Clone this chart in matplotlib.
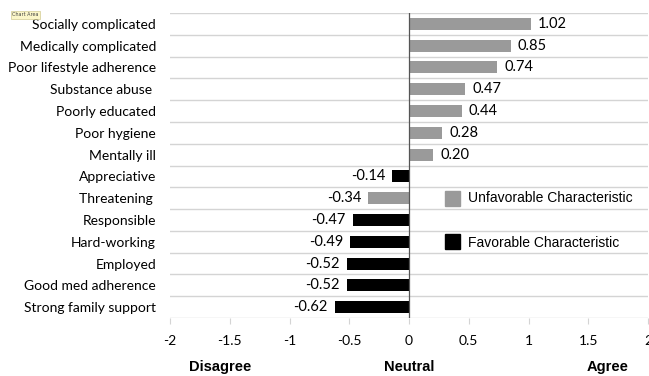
import matplotlib
matplotlib.use("Agg")
import matplotlib.pyplot as plt
import numpy as np

categories = ["Socially complicated", "Medically complicated", "Poor lifestyle adherence",
              "Substance abuse ", "Poorly educated", "Poor hygiene", "Mentally ill",
              "Appreciative", "Threatening ", "Responsible", "Hard-working", "Employed",
              "Good med adherence", "Strong family support"]
values = [1.02, 0.85, 0.74, 0.47, 0.44, 0.28, 0.20,
          -0.14, -0.34, -0.47, -0.49, -0.52, -0.52, -0.62]
unfavorable = [True, True, True, True, True, True, True,
               False, True, False, False, False, False, False]
xticks = [-2, -1.5, -1, -0.5, 0, 0.5, 1, 1.5, 2]
xtick_labels = ["-2", "-1.5", "-1", "-0.5", "0", "0.5", "1", "1.5", "2"]

gray = "#9a9a9a"
black = "#000000"
colors = [gray if u else black for u in unfavorable]

fig = plt.figure(figsize=(6.49, 3.76), dpi=100)
ax = fig.add_axes([170/649, 1 - 318/376, 478/649, 305/376])

n = len(categories)
y = np.arange(n)
ax.barh(y, values, height=0.55, color=colors, zorder=3)
ax.set_ylim(n - 0.5, -0.5)
ax.set_xlim(-2, 2)

# horizontal gridlines at category boundaries
for b in np.arange(-0.5, n, 1.0):
    ax.axhline(b, color="#d4d4d4", lw=1.0, zorder=1)
ax.axvline(0, color="#555555", lw=0.9, zorder=4)

for yi, v in zip(y, values):
    if v >= 0:
        ax.text(v + 0.06, yi, "%.2f" % v, va="center", ha="left", fontsize=10.5,
                family="Lato", zorder=5)
    else:
        ax.text(v - 0.06, yi, "%.2f" % v, va="center", ha="right", fontsize=10.5,
                family="Lato", zorder=5)

ax.set_yticks(y)
ax.set_yticklabels(categories, family="Lato", fontsize=10)
ax.tick_params(axis="y", length=0, pad=10)
ax.set_xticks(xticks)
ax.set_xticklabels(xtick_labels, family="Lato", fontsize=10)
ax.tick_params(axis="x", length=4, color="#d4d4d4", pad=8)
for s in ax.spines.values():
    s.set_visible(False)

# axis descriptors
for xv, lab in [(-1.58, "Disagree"), (0, "Neutral"), (1.66, "Agree")]:
    ax.text(xv, n + 1.75, lab, ha="center", va="center", fontsize=10.5,
            fontweight="bold", family="Liberation Sans", clip_on=False)

# legend
ax.add_patch(plt.Rectangle((0.30, 7.65), 0.13, 0.7, color=gray, zorder=5))
ax.text(0.49, 8.0, "Unfavorable Characteristic", va="center", ha="left",
        fontsize=10, family="Liberation Sans")
ax.add_patch(plt.Rectangle((0.30, 9.65), 0.13, 0.7, color=black, zorder=5))
ax.text(0.49, 10.05, "Favorable Characteristic", va="center", ha="left",
        fontsize=10, family="Liberation Sans")

fig.text(12/649, 1 - 15/376, "Chart Area", fontsize=3.5, family="DejaVu Sans",
         color="#444444", va="center", ha="left",
         bbox=dict(boxstyle="square,pad=0.3", fc="#fbf6c8", ec="#c8c080", lw=0.4))

fig.savefig("out.png", dpi=100)
